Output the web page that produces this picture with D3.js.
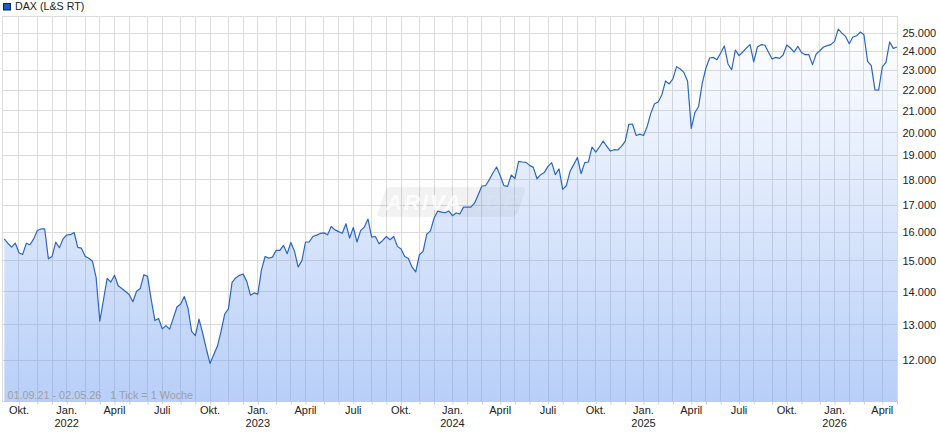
<!DOCTYPE html>
<html>
  <head>
    <meta charset="UTF-8" />
    <title>DAX (L&amp;S RT)</title>
    <style>
      body,
      html {
        margin: 0;
        padding: 0;
        overflow: hidden;
        background-color: #fff;
      }

      text {
        font-family: "Liberation Sans", Arial, sans-serif;
        font-size: 11px;
        fill: #222;
      }

      .grid line {
        stroke: #dcdcdc;
        stroke-width: 1px;
      }

      .axis path {
        display: none;
      }
    </style>
  </head>
  <body>
    <svg id="chart"></svg>
    <script src="https://d3js.org/d3.v7.min.js"></script>
    <script>
      const width = 940;
      const height = 435;

      const seriesName = "DAX (L&S RT)";
      const rangeNote = "01.09.21 - 02.05.26   1 Tick = 1 Woche";

      // weekly closes, first week starts 30.08.2021
      const closes2021 = [
        15756, 15594, 15467, 15604, 15274, 15216, 15604, 15550, 15756, 16056,
        16110, 16110, 15068, 15147, 15640, 15446, 15756,
      ];
      const closes2022 = [
        15893, 15904, 15983, 15456, 15432, 15157, 15088, 14987, 14441, 13100,
        13745, 14420, 14303, 14520, 14183, 14095, 14000, 13906, 13685, 14010,
        14095, 14540, 14485, 13745, 13118, 13180, 12877, 12969, 12868, 13191,
        13524, 13615, 13845, 13494, 12801, 12680, 13160, 12756, 12308, 11916,
        12148, 12381, 12801, 13312, 13464, 14290, 14433, 14518, 14563, 14323,
        13888, 13958,
      ];
      const closes2023 = [
        13918, 14700, 15146, 15090, 15125, 15354, 15354, 15528, 15240, 15632,
        15320, 14791, 15007, 15646, 15646, 15840, 15889, 15950, 15969, 15900,
        16200, 16078, 16015, 15958, 16300, 15785, 16163, 15646, 16052, 16178,
        16474, 15820, 15840, 15587, 15700, 15840, 15726, 15840, 15493, 15403,
        15146, 15076, 14785, 14635, 15205, 15320, 15924, 16040, 16511, 16770,
        16733, 16707,
      ];
      const closes2024 = [
        16770, 16596, 16696, 16659, 16918, 16918, 16918, 17070, 17398, 17740,
        17752, 17988, 18266, 18515, 18154, 17752, 17724, 18183, 18041, 18747,
        18722, 18705, 18581, 18498, 18029, 18195, 18290, 18540, 18693, 18195,
        18432, 17606, 17752, 18332, 18610, 18913, 18236, 18693, 18722, 19363,
        19144, 19363, 19625, 19389, 19188, 19245, 19232, 19389, 19607, 20368,
        20386, 19869,
      ];
      const closes2025 = [
        19930, 19869, 20276, 20890, 21336, 21418, 21774, 22454, 22303, 22556,
        23184, 23063, 22889, 22434, 20184, 20922, 21206, 22354, 23116, 23642,
        23674, 23553, 23905, 24286, 23326, 23026, 24066, 23763, 23958, 24176,
        24358, 23432, 24231, 24358, 24341, 23958, 23590, 23674, 23621, 23800,
        24341, 24176, 23958, 24264, 23937, 23816, 23816, 23290, 23853, 24027,
        24231, 24303,
      ];
      const closes2026 = [
        24358, 24539, 25220, 25000, 24813, 24412, 24780, 24852, 25055, 24907,
        23463, 23237, 22012, 22000, 23168, 23411, 24506, 24154, 24231,
      ];
      const closes = [
        ...closes2021,
        ...closes2022,
        ...closes2023,
        ...closes2024,
        ...closes2025,
        ...closes2026,
      ];

      const priceTicks = [
        12000, 13000, 14000, 15000, 16000, 17000, 18000, 19000, 20000, 21000,
        22000, 23000, 24000, 25000,
      ];
      const monthTickDates = [
        "2021-10-01", "2022-01-01", "2022-04-01", "2022-07-01", "2022-10-01",
        "2023-01-01", "2023-04-01", "2023-07-01", "2023-10-01", "2024-01-01",
        "2024-04-01", "2024-07-01", "2024-10-01", "2025-01-01", "2025-04-01",
        "2025-07-01", "2025-10-01", "2026-01-01", "2026-04-01",
      ];
      const monthTickNames = [
        "Okt.", "Jan.", "April", "Juli", "Okt.", "Jan.", "April", "Juli", "Okt.",
        "Jan.", "April", "Juli", "Okt.", "Jan.", "April", "Juli", "Okt.", "Jan.",
        "April",
      ];
      const yearLabels = ["2022", "2023", "2024", "2025", "2026"];

      const plot = { left: 2.5, right: 897.5, top: 16.5, bottom: 401.5 };

      const firstWeek = new Date(Date.UTC(2021, 7, 30));
      const weeks = closes.map((d, i) => d3.utcMonday.offset(firstWeek, i));

      const x = d3
        .scaleUtc()
        .domain([firstWeek, weeks[weeks.length - 1]])
        .range([4.3, 897]);

      const y = d3
        .scaleLog()
        .domain([10950, 25970])
        .range([plot.bottom - 0.4, plot.top - 0.4]);

      const snap = (v) => Math.round(v - 0.5) + 0.5;

      // every grid line sits on the week that holds the 1st of the month
      const monthWeeks = d3.utcMonth
        .range(new Date(Date.UTC(2021, 9, 1)), new Date(Date.UTC(2026, 4, 2)))
        .map((d) => d3.utcMonday.floor(d));

      const deLocale = d3.formatLocale({
        decimal: ",",
        thousands: ".",
        grouping: [3],
        currency: ["", " €"],
      });

      const svg = d3.select("#chart").attr("width", width).attr("height", height);

      const defs = svg.append("defs");
      const gradient = defs
        .append("linearGradient")
        .attr("id", "areaFill")
        .attr("gradientUnits", "userSpaceOnUse")
        .attr("x1", 0)
        .attr("x2", 0)
        .attr("y1", y(25500))
        .attr("y2", plot.bottom);
      gradient
        .append("stop")
        .attr("offset", 0)
        .attr("stop-color", "#6496f0")
        .attr("stop-opacity", 0);
      gradient
        .append("stop")
        .attr("offset", 1)
        .attr("stop-color", "#6496f0")
        .attr("stop-opacity", 0.46);

      // grid
      const grid = svg.append("g").attr("class", "grid");
      grid
        .selectAll(".v")
        .data(monthWeeks)
        .enter()
        .append("line")
        .attr("class", "v")
        .attr("x1", (d) => snap(x(d)))
        .attr("x2", (d) => snap(x(d)))
        .attr("y1", plot.top)
        .attr("y2", plot.bottom);
      grid
        .selectAll(".h")
        .data(priceTicks)
        .enter()
        .append("line")
        .attr("class", "h")
        .attr("x1", plot.left)
        .attr("x2", plot.right)
        .attr("y1", (d) => snap(y(d)))
        .attr("y2", (d) => snap(y(d)));
      grid
        .append("rect")
        .attr("x", plot.left)
        .attr("y", plot.top)
        .attr("width", plot.right - plot.left)
        .attr("height", plot.bottom - plot.top)
        .attr("fill", "none")
        .attr("stroke", "#dcdcdc");

      // watermark
      const mark = svg.append("g");
      mark
        .append("path")
        .attr(
          "d",
          "M390,187 H521 Q526,187 525,191 L518,212 Q516,217 510,217 H382 Q376,217 378,212 L385,191 Q386,187 390,187 Z"
        )
        .attr("fill", "#000")
        .attr("fill-opacity", 0.05);
      mark
        .append("text")
        .attr("x", 386)
        .attr("y", 210)
        .style("font-size", "22px")
        .style("font-weight", "bold")
        .style("font-style", "italic")
        .style("letter-spacing", "2px")
        .style("fill", "#fff")
        .style("fill-opacity", 0.8)
        .text("ARIVA");
      mark
        .append("text")
        .attr("x", 477)
        .attr("y", 210)
        .style("font-size", "22px")
        .style("font-weight", "bold")
        .style("font-style", "italic")
        .style("letter-spacing", "2px")
        .style("fill", "#fff")
        .style("fill-opacity", 0.3)
        .text(".DE");

      // area and line
      const area = d3
        .area()
        .x((d, i) => x(weeks[i]))
        .y0(plot.bottom)
        .y1((d) => y(d));
      const line = d3
        .line()
        .x((d, i) => x(weeks[i]))
        .y((d) => y(d));

      svg
        .append("path")
        .datum(closes)
        .attr("d", area)
        .attr("fill", "url(#areaFill)");
      svg
        .append("path")
        .datum(closes)
        .attr("d", line)
        .attr("fill", "none")
        .attr("stroke", "#2b66c2")
        .attr("stroke-width", 1.2)
        .attr("stroke-linejoin", "round");

      // right axis
      const yAxis = d3
        .axisRight(y)
        .tickValues(priceTicks)
        .tickSize(0)
        .tickPadding(5)
        .tickFormat(deLocale.format(","));
      svg
        .append("g")
        .attr("class", "axis")
        .attr("transform", `translate(${plot.right},0)`)
        .call(yAxis)
        .call((g) => g.selectAll("text").style("font-size", "11px").style("font-family", '"Liberation Sans", Arial, sans-serif').style("fill", "#222"));

      // bottom axis: month tick marks
      const monthAxis = d3
        .axisBottom(x)
        .tickValues(monthWeeks)
        .tickSize(3)
        .tickFormat("");
      svg
        .append("g")
        .attr("class", "axis")
        .attr("transform", `translate(0,${plot.bottom})`)
        .call(monthAxis)
        .call((g) => g.selectAll("line").attr("stroke", "#cfcfcf"));

      // bottom axis: quarter labels and years
      const labelWeeks = monthTickDates.map((d) =>
        d3.utcMonday.floor(new Date(d + "T00:00:00Z"))
      );
      svg
        .append("g")
        .selectAll("text")
        .data(monthTickNames)
        .enter()
        .append("text")
        .attr("x", (d, i) => x(labelWeeks[i]))
        .attr("y", 414)
        .attr("text-anchor", "middle")
        .text((d) => d);

      const januaryWeeks = labelWeeks.filter((d, i) => monthTickNames[i] === "Jan.");
      svg
        .append("g")
        .selectAll("text")
        .data(yearLabels)
        .enter()
        .append("text")
        .attr("x", (d, i) => x(januaryWeeks[i]))
        .attr("y", 427)
        .attr("text-anchor", "middle")
        .text((d) => d);

      // legend
      svg
        .append("rect")
        .attr("x", 3.5)
        .attr("y", 3.5)
        .attr("width", 7)
        .attr("height", 6.5)
        .attr("fill", "#1a5cc0")
        .attr("stroke", "#10234a");
      svg
        .append("text")
        .attr("x", 15)
        .attr("y", 10)
        .style("font-size", "10.7px")
        .text(seriesName);

      svg
        .append("text")
        .attr("x", 7.5)
        .attr("y", 399)
        .style("fill", "#9f9f9f")
        .style("font-size", "10.8px")
        .style("white-space", "pre")
        .text(rangeNote);
    </script>
  </body>
</html>
